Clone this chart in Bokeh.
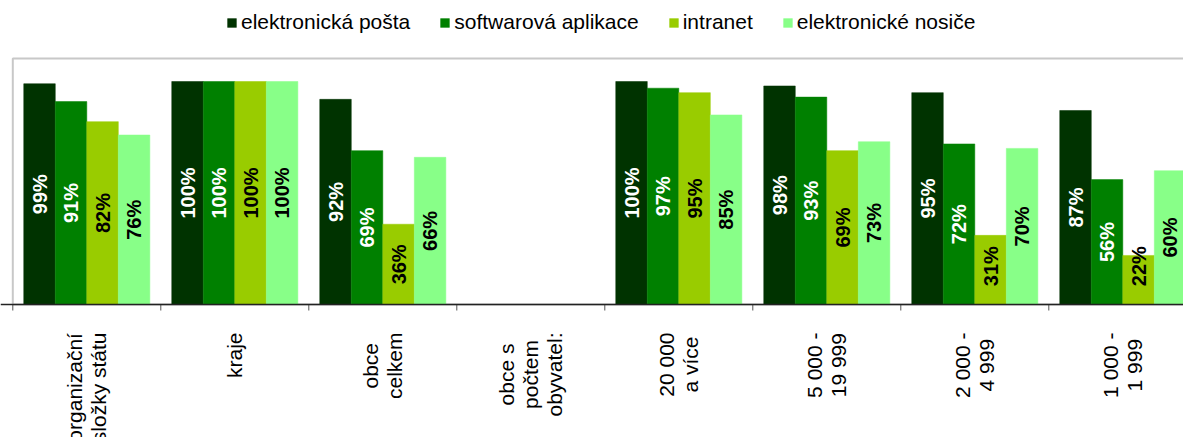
import math
import numpy as np
from bokeh.plotting import figure
from bokeh.models import Range1d, Legend, LegendItem, ColumnDataSource, Span
from bokeh.core.properties import value
from bokeh.embed import file_html
from bokeh.resources import INLINE

categories = ["organizační\nsložky státu", "kraje", "obce\ncelkem", "obce s\npočtem\nobyvatel:",
              "20 000\na více", "5 000 -\n19 999", "2 000 -\n4 999", "1 000 -\n1 999"]
series_names = ["elektronická pošta", "softwarová aplikace", "intranet", "elektronické nosiče"]
posta = [99, 100, 92, None, 100, 98, 95, 87]
software = [91, 100, 69, None, 97, 93, 72, 56]
intranet = [82, 100, 36, None, 95, 69, 31, 22]
nosice = [76, 100, 66, None, 85, 73, 70, 60]

colors = ["#003300", "#008000", "#99CC00", "#88FF88"]
label_colors = ["white", "white", "black", "black"]
series = [posta, software, intranet, nosice]

FONT = "Liberation Sans"
W, H = 1183, 437
plot_left_px = 12.3      # left edge of the plot area
plot_top_px = 58         # top edge of the plot area
axis_px = 304            # category axis line
px_per_cat = 148
px_per_unit = 2.23       # px per percent

x_start = -plot_left_px / px_per_cat
x_end = (W - plot_left_px) / px_per_cat
y_end = axis_px / px_per_unit
y_start = -(H - axis_px) / px_per_unit
y_top = (axis_px - plot_top_px) / px_per_unit

p = figure(width=W, height=H, output_backend="svg", toolbar_location=None, title=None,
           x_range=Range1d(x_start, x_end), y_range=Range1d(y_start, y_end),
           min_border_left=0, min_border_right=0, min_border_top=0, min_border_bottom=0)
p.background_fill_color = "white"
p.border_fill_color = "white"
p.outline_line_color = None
p.xgrid.visible = False
p.ygrid.visible = False
p.xaxis.visible = False
p.yaxis.visible = False

n = len(categories)
centers = np.arange(n) + 0.5
bw = 0.213
offsets = (np.arange(4) - 1.5) * bw

# plot-area border (grey)
p.quad(left=[0], right=[x_end + 1], bottom=[0], top=[y_top], fill_color=None,
       line_color="#c8c8c8", line_width=2)

items = []
for k, (vals, name, col, lc) in enumerate(zip(series, series_names, colors, label_colors)):
    v = np.array([np.nan if a is None else a for a in vals], dtype=float)
    src = ColumnDataSource(dict(x=centers + offsets[k], top=v))
    r = p.vbar(x="x", top="top", bottom=0, width=bw, source=src, fill_color=col, line_color=col, line_width=0.5)
    items.append(LegendItem(label=name, renderers=[r]))
    mask = ~np.isnan(v)
    lsrc = ColumnDataSource(dict(x=(centers + offsets[k])[mask],
                                 y=np.maximum(v[mask] / 2, 17.2),
                                 t=[f"{a:.0f}%" for a in v[mask]]))
    p.text(x="x", y="y", text="t", source=lsrc, angle=math.pi / 2,
           text_align="center", text_baseline="middle",
           text_font=value(FONT), text_font_style="bold", text_font_size="20px", text_color=lc)

# category axis: line, boundary ticks, rotated labels
p.add_layout(Span(location=0, dimension="width", line_color="#222222", line_width=1.5))
bounds = np.arange(n + 1)
p.segment(x0=bounds, y0=np.zeros(n + 1), x1=bounds, y1=np.full(n + 1, -6 / px_per_unit),
          line_color="#555555", line_width=1)

# approximate Arial/Liberation Sans advance widths (em) to centre each label block
W_EM = {"a": .556, "b": .556, "c": .5, "d": .556, "e": .556, "f": .278, "g": .556, "h": .556,
        "i": .222, "j": .222, "k": .5, "l": .222, "m": .833, "n": .556, "o": .556, "p": .556,
        "r": .333, "s": .5, "t": .278, "u": .556, "v": .5, "w": .722, "y": .5, "z": .5,
        " ": .278, "-": .333, ":": .278, "á": .556, "í": .278, "é": .556, "č": .5, "ž": .5, "š": .5}
LBL_PX = 21
standoff_px = 28
line_pitch_px = 24
def block_len(s):
    return max(sum(W_EM.get(ch, .556) for ch in line) for line in s.split("\n")) * LBL_PX

lx, ly, lt = [], [], []
for i, c in enumerate(categories):
    lines = c.split("\n")
    m = len(lines)
    yc = -(standoff_px + block_len(c) / 2) / px_per_unit
    for j, ln in enumerate(lines):
        lx.append(centers[i] + (j - (m - 1) / 2) * line_pitch_px / px_per_cat)
        ly.append(yc)
        lt.append(ln)
p.text(x=lx, y=ly, text=lt, angle=math.pi / 2,
       text_align="center", text_baseline="middle",
       text_font=value(FONT), text_font_size=f"{LBL_PX}px", text_color="black")

legend = Legend(items=items, orientation="horizontal", location=(226, H - 34))
legend.glyph_width = 11
legend.glyph_height = 11
legend.label_standoff = 4
legend.spacing = 29
legend.padding = 2
legend.margin = 0
legend.border_line_color = None
legend.background_fill_alpha = 0
legend.label_text_font = FONT
legend.label_text_font_size = "21px"
legend.label_text_color = "black"
legend.label_height = 21
p.add_layout(legend, "center")

open("out.html", "w").write(file_html(p, INLINE))
